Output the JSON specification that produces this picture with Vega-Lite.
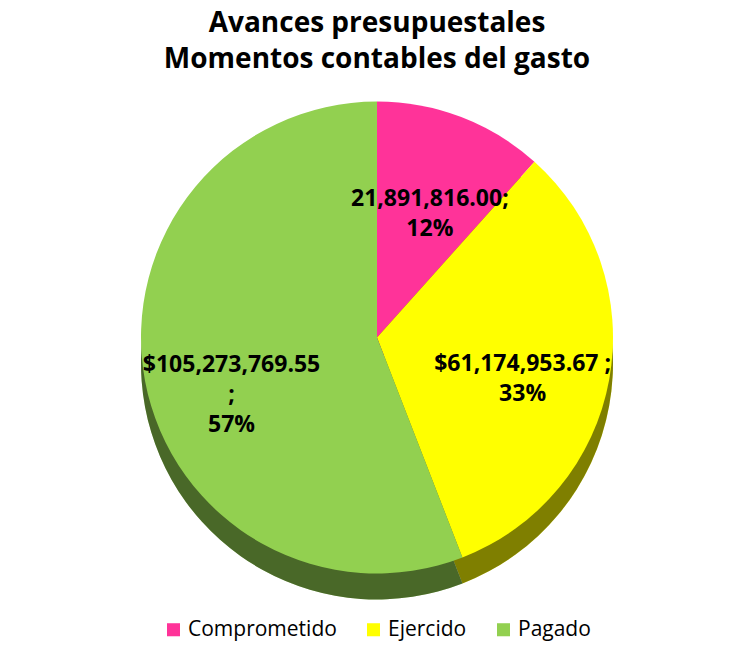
{
  "$schema": "https://vega.github.io/schema/vega-lite/v6.json",
  "width": 730,
  "height": 646,
  "autosize": {"type": "fit", "contains": "padding"},
  "background": "white",
  "padding": {"top": 10, "bottom": 6, "left": 24, "right": 0},
  "title": {
    "text": ["Avances presupuestales", "Momentos contables del gasto"],
    "font": "Open Sans",
    "fontSize": 28,
    "fontWeight": "bold",
    "color": "black",
    "lineHeight": 36,
    "offset": 6,
    "anchor": "middle"
  },
  "data": {
    "values": [
      {"category": "Comprometido", "value": 21891816.00, "order": 1, "label": "21,891,816.00;\n12%"},
      {"category": "Ejercido", "value": 61174953.67, "order": 2, "label": "$61,174,953.67 ;\n33%"},
      {"category": "Pagado", "value": 105273769.55, "order": 3, "label": "$105,273,769.55\n;\n57%"}
    ]
  },
  "encoding": {
    "theta": {"field": "value", "type": "quantitative", "stack": true},
    "order": {"field": "order", "type": "quantitative"}
  },
  "layer": [
    {
      "mark": {"type": "arc", "outerRadius": 236, "yOffset": 26},
      "encoding": {
        "color": {
          "field": "category",
          "type": "nominal",
          "scale": {"domain": ["Comprometido", "Ejercido", "Pagado"], "range": ["#FF3399", "#FFFF00", "#92D050"]},
          "legend": {
            "title": null,
            "orient": "bottom",
            "direction": "horizontal",
            "symbolType": "square",
            "symbolSize": 170,
            "symbolStrokeWidth": 0,
            "labelFont": "Open Sans",
            "labelFontSize": 21,
            "labelColor": "black",
            "columnPadding": 26,
            "offset": 24
          }
        }
      }
    },
    {
      "mark": {"type": "arc", "outerRadius": 236, "yOffset": 26, "color": "black", "opacity": 0.5}
    },
    {
      "mark": {"type": "arc", "outerRadius": 236},
      "encoding": {
        "color": {"field": "category", "type": "nominal"}
      }
    },
    {
      "mark": {"type": "text", "radius": 148, "lineBreak": "\n", "font": "Open Sans", "fontSize": 23, "fontWeight": "bold", "color": "black", "lineHeight": 30},
      "encoding": {
        "text": {"field": "label", "type": "nominal"}
      }
    }
  ],
  "config": {
    "view": {"stroke": null},
    "legend": {"layout": {"bottom": {"anchor": "middle"}}}
  }
}
